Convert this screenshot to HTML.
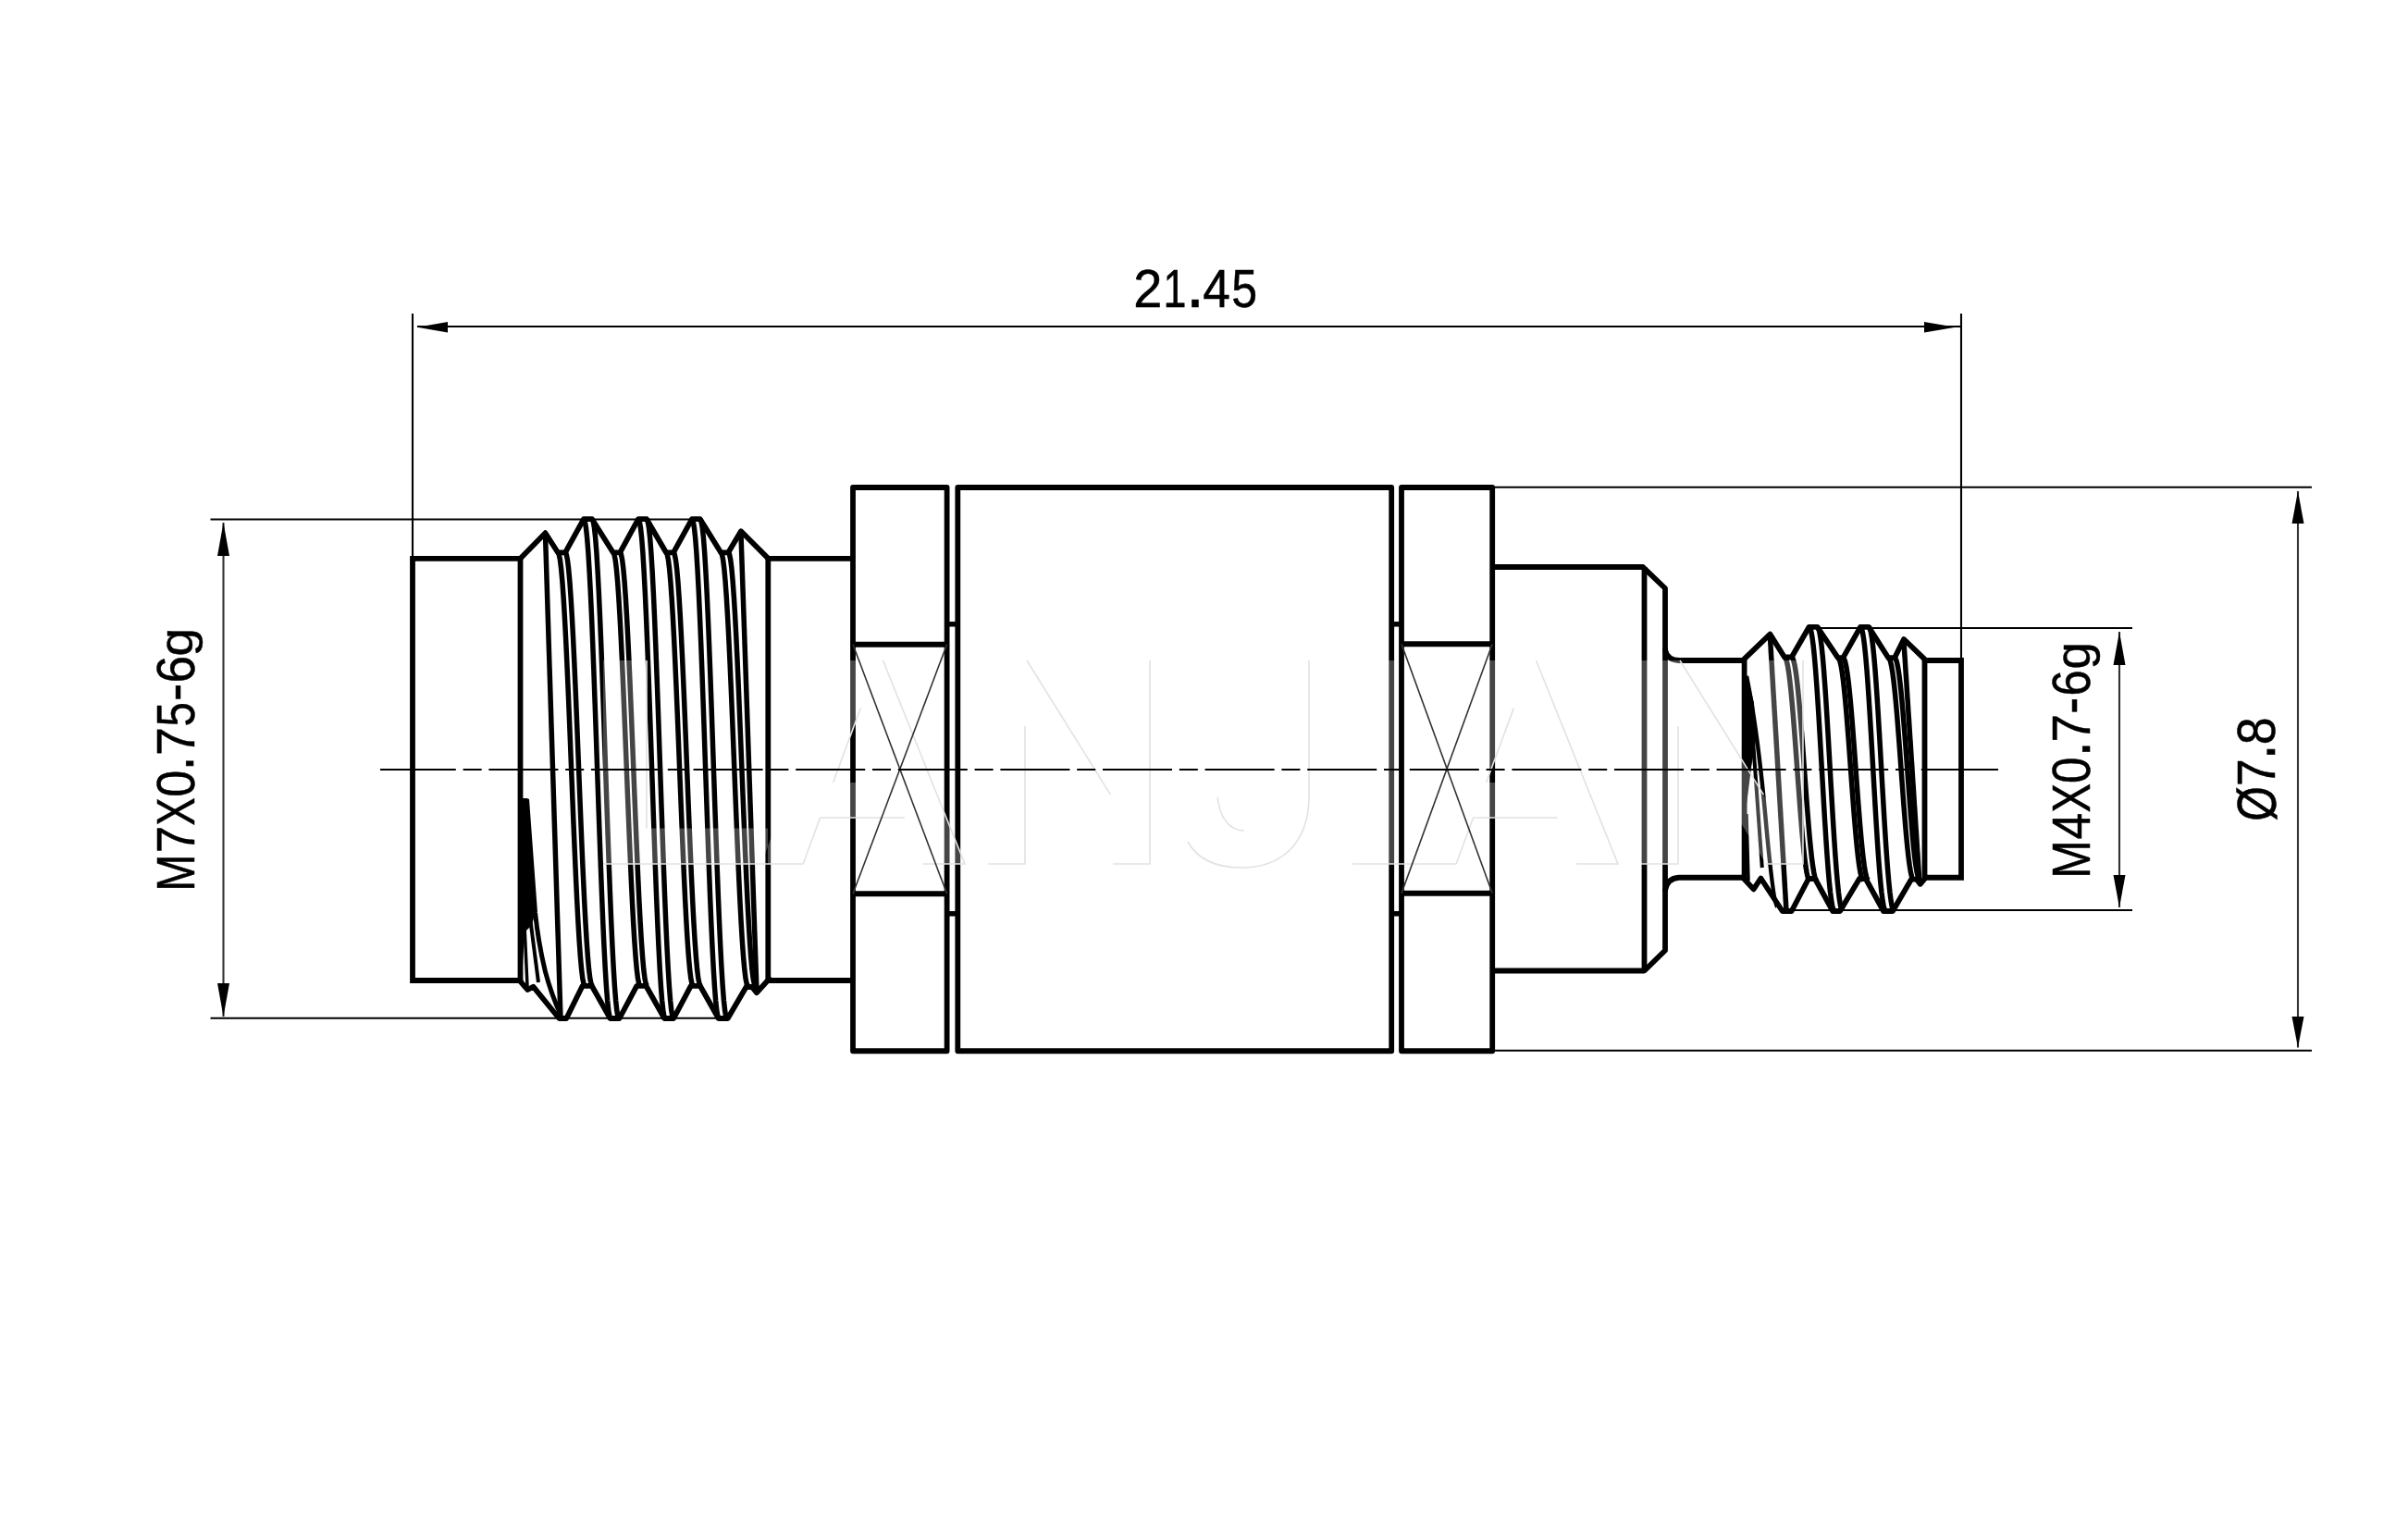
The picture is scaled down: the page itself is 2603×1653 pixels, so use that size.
<!DOCTYPE html>
<html><head><meta charset="utf-8"><style>html,body{margin:0;padding:0;background:#fff;overflow:hidden}svg{display:block}</style></head>
<body><svg width="2603" height="1653" viewBox="0 0 2603 1653">
<rect width="2603" height="1653" fill="#fff"/>
<line x1="446" y1="339" x2="446" y2="604" stroke="#000" stroke-width="2.1" stroke-linecap="butt"/>
<line x1="2120" y1="339" x2="2120" y2="714" stroke="#000" stroke-width="2.1" stroke-linecap="butt"/>
<line x1="451" y1="353" x2="2120" y2="353" stroke="#000" stroke-width="2.1" stroke-linecap="butt"/>
<path d="M451,353.8 L484,359.5 L484,348.1 Z" fill="#000"/>
<path d="M2114,353.8 L2080,348.1 L2080,359.5 Z" fill="#000"/>
<line x1="227.5" y1="561.5" x2="750" y2="561.5" stroke="#000" stroke-width="2.1" stroke-linecap="butt"/>
<line x1="227.5" y1="1100.75" x2="778" y2="1100.75" stroke="#000" stroke-width="2.1" stroke-linecap="butt"/>
<line x1="241.5" y1="565" x2="241.5" y2="1099" stroke="#333" stroke-width="2.1" stroke-linecap="butt"/>
<path d="M241.5,565 L235,601 L248,601 Z" fill="#000"/>
<path d="M241.5,1099 L248,1063 L235,1063 Z" fill="#000"/>
<line x1="1966" y1="679" x2="2305" y2="679" stroke="#000" stroke-width="2.1" stroke-linecap="butt"/>
<line x1="1930" y1="984" x2="2305" y2="984" stroke="#000" stroke-width="2.1" stroke-linecap="butt"/>
<line x1="2291" y1="683" x2="2291" y2="981" stroke="#333" stroke-width="2.1" stroke-linecap="butt"/>
<path d="M2291,683 L2284.5,719 L2297.5,719 Z" fill="#000"/>
<path d="M2291,981 L2297.5,946 L2284.5,946 Z" fill="#000"/>
<line x1="1612" y1="526.75" x2="2499" y2="526.75" stroke="#000" stroke-width="2.1" stroke-linecap="butt"/>
<line x1="1612" y1="1135.75" x2="2499" y2="1135.75" stroke="#000" stroke-width="2.1" stroke-linecap="butt"/>
<line x1="2484" y1="531" x2="2484" y2="1132.5" stroke="#333" stroke-width="2.1" stroke-linecap="butt"/>
<path d="M2484,531 L2477.5,566 L2490.5,566 Z" fill="#000"/>
<path d="M2484,1132.5 L2490.5,1099 L2477.5,1099 Z" fill="#000"/>
<path d="M562.5,603.8 L446,603.8 L446,1060 L562.5,1060" fill="none" stroke="#000" stroke-width="5.8" stroke-linejoin="miter" stroke-linecap="round"/>
<line x1="562.5" y1="601.5" x2="562.5" y2="1062.5" stroke="#000" stroke-width="5.8" stroke-linecap="butt"/>
<line x1="829" y1="603.8" x2="922" y2="603.8" stroke="#000" stroke-width="5.8" stroke-linecap="butt"/>
<line x1="829" y1="1060" x2="922" y2="1060" stroke="#000" stroke-width="5.8" stroke-linecap="butt"/>
<path d="M922,527 L1023.6,527 L1023.6,1136.25 L922,1136.25 Z" fill="none" stroke="#000" stroke-width="5.8" stroke-linejoin="round" stroke-linecap="round"/>
<line x1="922" y1="696.75" x2="1023.6" y2="696.75" stroke="#000" stroke-width="5.8" stroke-linecap="butt"/>
<line x1="922" y1="966.25" x2="1023.6" y2="966.25" stroke="#000" stroke-width="5.8" stroke-linecap="butt"/>
<line x1="1023.6" y1="674.8" x2="1035.3" y2="674.8" stroke="#000" stroke-width="5.5" stroke-linecap="butt"/>
<line x1="1023.6" y1="987.8" x2="1035.3" y2="987.8" stroke="#000" stroke-width="5.5" stroke-linecap="butt"/>
<path d="M1035.3,527 L1504.2,527 L1504.2,1136.25 L1035.3,1136.25 Z" fill="none" stroke="#000" stroke-width="5.8" stroke-linejoin="round" stroke-linecap="round"/>
<line x1="1504.2" y1="674.8" x2="1515" y2="674.8" stroke="#000" stroke-width="5.5" stroke-linecap="butt"/>
<line x1="1504.2" y1="987.8" x2="1515" y2="987.8" stroke="#000" stroke-width="5.5" stroke-linecap="butt"/>
<path d="M1515,527 L1613.2,527 L1613.2,1136.25 L1515,1136.25 Z" fill="none" stroke="#000" stroke-width="5.8" stroke-linejoin="round" stroke-linecap="round"/>
<line x1="1515" y1="696.25" x2="1613.2" y2="696.25" stroke="#000" stroke-width="5.8" stroke-linecap="butt"/>
<line x1="1515" y1="965.75" x2="1613.2" y2="965.75" stroke="#000" stroke-width="5.8" stroke-linecap="butt"/>
<line x1="1800" y1="700" x2="1800" y2="964" stroke="#000" stroke-width="5.8" stroke-linecap="butt"/>
<path d="M1612.5,613 L1776,613 L1800,636 L1800,702.5 Q1802,713.5 1815,714 L1885,714" fill="none" stroke="#000" stroke-width="5.8" stroke-linejoin="round"/>
<path d="M1612.5,1049.5 L1777.5,1049.5 L1800,1027.5 L1800,962.5 Q1802,949.5 1815,948.75 L1885,948.75" fill="none" stroke="#000" stroke-width="5.8" stroke-linejoin="round"/>
<line x1="1777.5" y1="613" x2="1777.5" y2="1049.5" stroke="#000" stroke-width="5.8" stroke-linecap="butt"/>
<path d="M2081,714 L2120,714 L2120,948.75 L2081,948.75" fill="none" stroke="#000" stroke-width="5.8" stroke-linejoin="miter" stroke-linecap="round"/>
<path d="M562.5,603.8 L589.5,576.2 L603,597.3 L611,597.3 L631,561.2 L640,561.2 L662.7,597.3 L670.2,597.3 L690,561.2 L699,561.2 L720,597.3 L728,597.3 L748,561.2 L756.8,561.2 L779.2,597.3 L787.3,597.3 L801,574.3 L830.3,603.6" fill="none" stroke="#000" stroke-width="5.8" stroke-linejoin="round" stroke-linecap="round"/>
<path d="M561.2,1059.6 L570.4,1070 L576.4,1066.7 L604.4,1101 L612.3,1101 L629.7,1065.8 L639.7,1065.8 L659.6,1101 L669.6,1101 L688.3,1065.8 L698.3,1065.8 L718.2,1101 L728.2,1101 L746.8,1065.8 L756.8,1065.8 L776.7,1101 L786.7,1101 L806.6,1067 L812.9,1067 L817.9,1073.3 L831.5,1058.3" fill="none" stroke="#000" stroke-width="5.8" stroke-linejoin="round" stroke-linecap="round"/>
<line x1="830.3" y1="601" x2="830.3" y2="1062" stroke="#000" stroke-width="5.8" stroke-linecap="butt"/>
<path d="M603,597.3 L604.22,599.3 L605.44,605.28 L606.66,615.13 L607.88,628.68 L609.09,645.7 L610.31,665.9 L611.53,688.93 L612.75,714.4 L613.97,741.88 L615.19,770.88 L616.41,800.93 L617.62,831.5 L618.84,862.07 L620.06,892.12 L621.28,921.12 L622.5,948.6 L623.72,974.07 L624.94,997.1 L626.16,1017.3 L627.38,1034.32 L628.59,1047.87 L629.81,1057.72 L631.03,1063.7 L632.25,1065.7" fill="none" stroke="#000" stroke-width="5.5" stroke-linejoin="round"/>
<path d="M611,597.3 L612.22,599.3 L613.44,605.28 L614.66,615.13 L615.88,628.68 L617.09,645.7 L618.31,665.9 L619.53,688.93 L620.75,714.4 L621.97,741.88 L623.19,770.88 L624.41,800.93 L625.62,831.5 L626.84,862.07 L628.06,892.12 L629.28,921.12 L630.5,948.6 L631.72,974.07 L632.94,997.1 L634.16,1017.3 L635.38,1034.32 L636.59,1047.87 L637.81,1057.72 L639.03,1063.7 L640.25,1065.7" fill="none" stroke="#000" stroke-width="5.5" stroke-linejoin="round"/>
<path d="M631,561.2 L632.22,563.51 L633.44,570.41 L634.66,581.78 L635.88,597.41 L637.09,617.06 L638.31,640.37 L639.53,666.95 L640.75,696.35 L641.97,728.06 L643.19,761.54 L644.41,796.22 L645.62,831.5 L646.84,866.78 L648.06,901.46 L649.28,934.94 L650.5,966.65 L651.72,996.05 L652.94,1022.63 L654.16,1045.94 L655.38,1065.59 L656.59,1081.22 L657.81,1092.59 L659.03,1099.49 L660.25,1101.8" fill="none" stroke="#000" stroke-width="5.5" stroke-linejoin="round"/>
<path d="M640,561.2 L641.22,563.51 L642.44,570.41 L643.66,581.78 L644.88,597.41 L646.09,617.06 L647.31,640.37 L648.53,666.95 L649.75,696.35 L650.97,728.06 L652.19,761.54 L653.41,796.22 L654.62,831.5 L655.84,866.78 L657.06,901.46 L658.28,934.94 L659.5,966.65 L660.72,996.05 L661.94,1022.63 L663.16,1045.94 L664.38,1065.59 L665.59,1081.22 L666.81,1092.59 L668.03,1099.49 L669.25,1101.8" fill="none" stroke="#000" stroke-width="5.5" stroke-linejoin="round"/>
<path d="M662.7,597.3 L663.92,599.3 L665.14,605.28 L666.36,615.13 L667.58,628.68 L668.79,645.7 L670.01,665.9 L671.23,688.93 L672.45,714.4 L673.67,741.88 L674.89,770.88 L676.11,800.93 L677.33,831.5 L678.54,862.07 L679.76,892.12 L680.98,921.12 L682.2,948.6 L683.42,974.07 L684.64,997.1 L685.86,1017.3 L687.08,1034.32 L688.29,1047.87 L689.51,1057.72 L690.73,1063.7 L691.95,1065.7" fill="none" stroke="#000" stroke-width="5.5" stroke-linejoin="round"/>
<path d="M670.2,597.3 L671.42,599.3 L672.64,605.28 L673.86,615.13 L675.08,628.68 L676.29,645.7 L677.51,665.9 L678.73,688.93 L679.95,714.4 L681.17,741.88 L682.39,770.88 L683.61,800.93 L684.83,831.5 L686.04,862.07 L687.26,892.12 L688.48,921.12 L689.7,948.6 L690.92,974.07 L692.14,997.1 L693.36,1017.3 L694.58,1034.32 L695.79,1047.87 L697.01,1057.72 L698.23,1063.7 L699.45,1065.7" fill="none" stroke="#000" stroke-width="5.5" stroke-linejoin="round"/>
<path d="M690,561.2 L691.22,563.51 L692.44,570.41 L693.66,581.78 L694.88,597.41 L696.09,617.06 L697.31,640.37 L698.53,666.95 L699.75,696.35 L700.97,728.06 L702.19,761.54 L703.41,796.22 L704.62,831.5 L705.84,866.78 L707.06,901.46 L708.28,934.94 L709.5,966.65 L710.72,996.05 L711.94,1022.63 L713.16,1045.94 L714.38,1065.59 L715.59,1081.22 L716.81,1092.59 L718.03,1099.49 L719.25,1101.8" fill="none" stroke="#000" stroke-width="5.5" stroke-linejoin="round"/>
<path d="M699,561.2 L700.22,563.51 L701.44,570.41 L702.66,581.78 L703.88,597.41 L705.09,617.06 L706.31,640.37 L707.53,666.95 L708.75,696.35 L709.97,728.06 L711.19,761.54 L712.41,796.22 L713.62,831.5 L714.84,866.78 L716.06,901.46 L717.28,934.94 L718.5,966.65 L719.72,996.05 L720.94,1022.63 L722.16,1045.94 L723.38,1065.59 L724.59,1081.22 L725.81,1092.59 L727.03,1099.49 L728.25,1101.8" fill="none" stroke="#000" stroke-width="5.5" stroke-linejoin="round"/>
<path d="M720,597.3 L721.22,599.3 L722.44,605.28 L723.66,615.13 L724.88,628.68 L726.09,645.7 L727.31,665.9 L728.53,688.93 L729.75,714.4 L730.97,741.88 L732.19,770.88 L733.41,800.93 L734.62,831.5 L735.84,862.07 L737.06,892.12 L738.28,921.12 L739.5,948.6 L740.72,974.07 L741.94,997.1 L743.16,1017.3 L744.38,1034.32 L745.59,1047.87 L746.81,1057.72 L748.03,1063.7 L749.25,1065.7" fill="none" stroke="#000" stroke-width="5.5" stroke-linejoin="round"/>
<path d="M728,597.3 L729.22,599.3 L730.44,605.28 L731.66,615.13 L732.88,628.68 L734.09,645.7 L735.31,665.9 L736.53,688.93 L737.75,714.4 L738.97,741.88 L740.19,770.88 L741.41,800.93 L742.62,831.5 L743.84,862.07 L745.06,892.12 L746.28,921.12 L747.5,948.6 L748.72,974.07 L749.94,997.1 L751.16,1017.3 L752.38,1034.32 L753.59,1047.87 L754.81,1057.72 L756.03,1063.7 L757.25,1065.7" fill="none" stroke="#000" stroke-width="5.5" stroke-linejoin="round"/>
<path d="M748,561.2 L749.22,563.51 L750.44,570.41 L751.66,581.78 L752.88,597.41 L754.09,617.06 L755.31,640.37 L756.53,666.95 L757.75,696.35 L758.97,728.06 L760.19,761.54 L761.41,796.22 L762.62,831.5 L763.84,866.78 L765.06,901.46 L766.28,934.94 L767.5,966.65 L768.72,996.05 L769.94,1022.63 L771.16,1045.94 L772.38,1065.59 L773.59,1081.22 L774.81,1092.59 L776.03,1099.49 L777.25,1101.8" fill="none" stroke="#000" stroke-width="5.5" stroke-linejoin="round"/>
<path d="M756.8,561.2 L758.02,563.51 L759.24,570.41 L760.46,581.78 L761.67,597.41 L762.89,617.06 L764.11,640.37 L765.33,666.95 L766.55,696.35 L767.77,728.06 L768.99,761.54 L770.21,796.22 L771.42,831.5 L772.64,866.78 L773.86,901.46 L775.08,934.94 L776.3,966.65 L777.52,996.05 L778.74,1022.63 L779.96,1045.94 L781.17,1065.59 L782.39,1081.22 L783.61,1092.59 L784.83,1099.49 L786.05,1101.8" fill="none" stroke="#000" stroke-width="5.5" stroke-linejoin="round"/>
<path d="M779.2,597.3 L780.42,599.3 L781.64,605.28 L782.86,615.13 L784.08,628.68 L785.29,645.7 L786.51,665.9 L787.73,688.93 L788.95,714.4 L790.17,741.88 L791.39,770.88 L792.61,800.93 L793.83,831.5 L795.04,862.07 L796.26,892.12 L797.48,921.12 L798.7,948.6 L799.92,974.07 L801.14,997.1 L802.36,1017.3 L803.58,1034.32 L804.79,1047.87 L806.01,1057.72 L807.23,1063.7 L808.45,1065.7" fill="none" stroke="#000" stroke-width="5.5" stroke-linejoin="round"/>
<path d="M787.3,597.3 L788.52,599.3 L789.74,605.28 L790.96,615.13 L792.17,628.68 L793.39,645.7 L794.61,665.9 L795.83,688.93 L797.05,714.4 L798.27,741.88 L799.49,770.88 L800.71,800.93 L801.92,831.5 L803.14,862.07 L804.36,892.12 L805.58,921.12 L806.8,948.6 L808.02,974.07 L809.24,997.1 L810.46,1017.3 L811.67,1034.32 L812.89,1047.87 L814.11,1057.72 L815.33,1063.7 L816.55,1065.7" fill="none" stroke="#000" stroke-width="5.5" stroke-linejoin="round"/>
<line x1="589.5" y1="578" x2="606" y2="1101" stroke="#000" stroke-width="5.5" stroke-linecap="butt"/>
<line x1="801" y1="578" x2="818" y2="1072" stroke="#000" stroke-width="5.5" stroke-linecap="butt"/>
<path d="M560.5,863 L570.5,863 L578.5,986.5 L575,1000 L567,1008 L564,1062 L560.5,1062 Z" fill="#000"/>
<path d="M569.5,864 L578.5,986.5 Q582,1020 589.5,1050.6 Q596,1075 606,1097" fill="none" stroke="#000" stroke-width="5"/>
<line x1="573" y1="992" x2="582" y2="1062" stroke="#000" stroke-width="4" stroke-linecap="butt"/>
<line x1="567" y1="1000" x2="570" y2="1066" stroke="#000" stroke-width="3.5" stroke-linecap="butt"/>
<path d="M1884.5,713.4 L1913.4,685.6 L1929,710.5 L1936.7,710.5 L1955.6,677.8 L1964.5,677.8 L1986.8,711.2 L1992.3,711.2 L2011,677.8 L2020,677.8 L2041.3,711.2 L2048,711.2 L2058,691 L2080.2,712.3" fill="none" stroke="#000" stroke-width="5.8" stroke-linejoin="round" stroke-linecap="round"/>
<path d="M1884.5,949.2 L1895.6,961.4 L1903.4,949.5 L1926.7,985 L1936.7,985 L1955,950 L1962,950 L1981.2,985 L1989,985 L2010,950 L2016.8,950 L2036,985 L2046,985 L2066,950.7 L2072,950.7 L2075.7,955.8 L2081.3,949.2" fill="none" stroke="#000" stroke-width="5.8" stroke-linejoin="round" stroke-linecap="round"/>
<line x1="1885.6" y1="711" x2="1885.6" y2="951" stroke="#000" stroke-width="5.8" stroke-linecap="butt"/>
<line x1="2080.5" y1="711" x2="2080.5" y2="951" stroke="#000" stroke-width="5.8" stroke-linecap="butt"/>
<path d="M1929,710.5 L1930.15,711.54 L1931.29,714.62 L1932.44,719.71 L1933.58,726.71 L1934.73,735.5 L1935.88,745.94 L1937.02,757.84 L1938.17,771 L1939.31,785.2 L1940.46,800.18 L1941.6,815.71 L1942.75,831.5 L1943.9,847.29 L1945.04,862.82 L1946.19,877.8 L1947.33,892 L1948.48,905.16 L1949.62,917.06 L1950.77,927.5 L1951.92,936.29 L1953.06,943.29 L1954.21,948.38 L1955.35,951.46 L1956.5,952.5" fill="none" stroke="#000" stroke-width="5.5" stroke-linejoin="round"/>
<path d="M1936.7,710.5 L1937.85,711.54 L1938.99,714.62 L1940.14,719.71 L1941.28,726.71 L1942.43,735.5 L1943.58,745.94 L1944.72,757.84 L1945.87,771 L1947.01,785.2 L1948.16,800.18 L1949.3,815.71 L1950.45,831.5 L1951.6,847.29 L1952.74,862.82 L1953.89,877.8 L1955.03,892 L1956.18,905.16 L1957.33,917.06 L1958.47,927.5 L1959.62,936.29 L1960.76,943.29 L1961.91,948.38 L1963.05,951.46 L1964.2,952.5" fill="none" stroke="#000" stroke-width="5.5" stroke-linejoin="round"/>
<path d="M1955.6,677.8 L1956.75,679.11 L1957.89,683.04 L1959.04,689.5 L1960.18,698.39 L1961.33,709.56 L1962.47,722.82 L1963.62,737.93 L1964.77,754.65 L1965.91,772.68 L1967.06,791.72 L1968.2,811.44 L1969.35,831.5 L1970.5,851.56 L1971.64,871.28 L1972.79,890.32 L1973.93,908.35 L1975.08,925.07 L1976.22,940.18 L1977.37,953.44 L1978.52,964.61 L1979.66,973.5 L1980.81,979.96 L1981.95,983.89 L1983.1,985.2" fill="none" stroke="#000" stroke-width="5.5" stroke-linejoin="round"/>
<path d="M1964.5,677.8 L1965.65,679.11 L1966.79,683.04 L1967.94,689.5 L1969.08,698.39 L1970.23,709.56 L1971.38,722.82 L1972.52,737.93 L1973.67,754.65 L1974.81,772.68 L1975.96,791.72 L1977.1,811.44 L1978.25,831.5 L1979.4,851.56 L1980.54,871.28 L1981.69,890.32 L1982.83,908.35 L1983.98,925.07 L1985.12,940.18 L1986.27,953.44 L1987.42,964.61 L1988.56,973.5 L1989.71,979.96 L1990.85,983.89 L1992,985.2" fill="none" stroke="#000" stroke-width="5.5" stroke-linejoin="round"/>
<path d="M1986.8,711.2 L1987.95,712.23 L1989.09,715.3 L1990.24,720.36 L1991.38,727.32 L1992.53,736.06 L1993.67,746.44 L1994.82,758.27 L1995.97,771.35 L1997.11,785.46 L1998.26,800.36 L1999.4,815.8 L2000.55,831.5 L2001.7,847.2 L2002.84,862.64 L2003.99,877.54 L2005.13,891.65 L2006.28,904.73 L2007.42,916.56 L2008.57,926.94 L2009.72,935.68 L2010.86,942.64 L2012.01,947.7 L2013.15,950.77 L2014.3,951.8" fill="none" stroke="#000" stroke-width="5.5" stroke-linejoin="round"/>
<path d="M1992.3,711.2 L1993.45,712.23 L1994.59,715.3 L1995.74,720.36 L1996.88,727.32 L1998.03,736.06 L1999.17,746.44 L2000.32,758.27 L2001.47,771.35 L2002.61,785.46 L2003.76,800.36 L2004.9,815.8 L2006.05,831.5 L2007.2,847.2 L2008.34,862.64 L2009.49,877.54 L2010.63,891.65 L2011.78,904.73 L2012.92,916.56 L2014.07,926.94 L2015.22,935.68 L2016.36,942.64 L2017.51,947.7 L2018.65,950.77 L2019.8,951.8" fill="none" stroke="#000" stroke-width="5.5" stroke-linejoin="round"/>
<path d="M2011,677.8 L2012.15,679.11 L2013.29,683.04 L2014.44,689.5 L2015.58,698.39 L2016.73,709.56 L2017.88,722.82 L2019.02,737.93 L2020.17,754.65 L2021.31,772.68 L2022.46,791.72 L2023.6,811.44 L2024.75,831.5 L2025.9,851.56 L2027.04,871.28 L2028.19,890.32 L2029.33,908.35 L2030.48,925.07 L2031.62,940.18 L2032.77,953.44 L2033.92,964.61 L2035.06,973.5 L2036.21,979.96 L2037.35,983.89 L2038.5,985.2" fill="none" stroke="#000" stroke-width="5.5" stroke-linejoin="round"/>
<path d="M2020,677.8 L2021.15,679.11 L2022.29,683.04 L2023.44,689.5 L2024.58,698.39 L2025.73,709.56 L2026.88,722.82 L2028.02,737.93 L2029.17,754.65 L2030.31,772.68 L2031.46,791.72 L2032.6,811.44 L2033.75,831.5 L2034.9,851.56 L2036.04,871.28 L2037.19,890.32 L2038.33,908.35 L2039.48,925.07 L2040.62,940.18 L2041.77,953.44 L2042.92,964.61 L2044.06,973.5 L2045.21,979.96 L2046.35,983.89 L2047.5,985.2" fill="none" stroke="#000" stroke-width="5.5" stroke-linejoin="round"/>
<path d="M2041.3,711.2 L2042.45,712.23 L2043.59,715.3 L2044.74,720.36 L2045.88,727.32 L2047.03,736.06 L2048.18,746.44 L2049.32,758.27 L2050.47,771.35 L2051.61,785.46 L2052.76,800.36 L2053.9,815.8 L2055.05,831.5 L2056.2,847.2 L2057.34,862.64 L2058.49,877.54 L2059.63,891.65 L2060.78,904.73 L2061.92,916.56 L2063.07,926.94 L2064.22,935.68 L2065.36,942.64 L2066.51,947.7 L2067.65,950.77 L2068.8,951.8" fill="none" stroke="#000" stroke-width="5.5" stroke-linejoin="round"/>
<path d="M2048,711.2 L2049.15,712.23 L2050.29,715.3 L2051.44,720.36 L2052.58,727.32 L2053.73,736.06 L2054.88,746.44 L2056.02,758.27 L2057.17,771.35 L2058.31,785.46 L2059.46,800.36 L2060.6,815.8 L2061.75,831.5 L2062.9,847.2 L2064.04,862.64 L2065.19,877.54 L2066.33,891.65 L2067.48,904.73 L2068.62,916.56 L2069.77,926.94 L2070.92,935.68 L2072.06,942.64 L2073.21,947.7 L2074.35,950.77 L2075.5,951.8" fill="none" stroke="#000" stroke-width="5.5" stroke-linejoin="round"/>
<line x1="1913.4" y1="688" x2="1931" y2="985" stroke="#000" stroke-width="5.5" stroke-linecap="butt"/>
<line x1="2058" y1="694" x2="2075" y2="955" stroke="#000" stroke-width="5.5" stroke-linecap="butt"/>
<path d="M1885,728 L1889,731 L1896,760 L1898,800 L1893,830 L1888,870 L1885,950 Z" fill="#000"/>
<path d="M1888,731 Q1900,790 1908.4,883 T1921,980" fill="none" stroke="#000" stroke-width="4.5"/>
<line x1="1893" y1="773" x2="1904.8" y2="938" stroke="#000" stroke-width="4" stroke-linecap="butt"/>
<line x1="1888" y1="880" x2="1890" y2="952" stroke="#000" stroke-width="3.5" stroke-linecap="butt"/>
<path d="M652,714 L699,714 L699,895.5 L830,895.5 L830,934 L652,934 Z M904,714 L954.5,714 L1043,934 L823,934 Z M930.3,765.6 L962.6,846 L900.6,846 Z M886.6,884 L977.8,884 L997.9,934 L868.1,934 Z M1068,714 L1110,714 L1203,863.4 L1203,714 L1243,714 L1243,934 L1203,934 L1108,779.1 L1108,934 L1068,934 Z M1375,714 L1415,714 L1415,860 C1415,912 1385,938 1342,938 C1312,938 1294,928 1284,910 L1316,862 C1319,886 1330,898 1345,898 C1364,898 1375,884 1375,860 Z M1462,714 L1508,714 L1508,934 L1462,934 Z M1610,714 L1660.5,714 L1749,934 L1529,934 Z M1636.3,765.6 L1668.6,846 L1606.6,846 Z M1592.6,884 L1683.8,884 L1703.9,934 L1574.1,934 Z M1774,714 L1816,714 L1909,863.4 L1909,714 L1949,714 L1949,934 L1909,934 L1814,779.1 L1814,934 L1774,934 Z" fill="#fff" fill-opacity="0.27" fill-rule="evenodd"/>
<path d="M930.3,765.6 L900.6,846" fill="none" stroke="#e2e2e2" stroke-width="1.6"/>
<path d="M954.5,714 L1043,934 L998,934" fill="none" stroke="#e2e2e2" stroke-width="1.6"/>
<path d="M886.6,884 L977.8,884" fill="none" stroke="#e2e2e2" stroke-width="1.6"/>
<path d="M868.1,934 L886.6,884" fill="none" stroke="#e2e2e2" stroke-width="1.6"/>
<path d="M1068,934 L1108,934 L1108,785" fill="none" stroke="#e2e2e2" stroke-width="1.6"/>
<path d="M1110,714 L1200.4,859.2" fill="none" stroke="#e2e2e2" stroke-width="1.6"/>
<path d="M1203,934 L1243,934 L1243,714" fill="none" stroke="#e2e2e2" stroke-width="1.6"/>
<path d="M1636.3,765.6 L1606.6,846" fill="none" stroke="#e2e2e2" stroke-width="1.6"/>
<path d="M1660.5,714 L1749,934 L1704,934" fill="none" stroke="#e2e2e2" stroke-width="1.6"/>
<path d="M1592.6,884 L1683.8,884" fill="none" stroke="#e2e2e2" stroke-width="1.6"/>
<path d="M1574.1,934 L1592.6,884" fill="none" stroke="#e2e2e2" stroke-width="1.6"/>
<path d="M1774,934 L1814,934 L1814,785" fill="none" stroke="#e2e2e2" stroke-width="1.6"/>
<path d="M1816,714 L1906.4,859.2" fill="none" stroke="#e2e2e2" stroke-width="1.6"/>
<path d="M1909,934 L1949,934 L1949,714" fill="none" stroke="#e2e2e2" stroke-width="1.6"/>
<path d="M699,714 L699,895.5" fill="none" stroke="#e2e2e2" stroke-width="1.6"/>
<path d="M652,934 L868.1,934" fill="none" stroke="#e2e2e2" stroke-width="1.6"/>
<path d="M1462,934 L1574.1,934" fill="none" stroke="#e2e2e2" stroke-width="1.6"/>
<path d="M1415,714 L1415,860 C1415,912 1385,938 1342,938 C1312,938 1294,928 1284,910" fill="none" stroke="#e2e2e2" stroke-width="1.6"/>
<path d="M1316,862 C1319,886 1330,898 1345,898" fill="none" stroke="#e2e2e2" stroke-width="1.6"/>
<line x1="922" y1="696.75" x2="1023.6" y2="966.25" stroke="#333" stroke-width="1.6" stroke-linecap="butt"/>
<line x1="1023.6" y1="696.75" x2="922" y2="966.25" stroke="#333" stroke-width="1.6" stroke-linecap="butt"/>
<line x1="1515" y1="696.25" x2="1613.2" y2="965.75" stroke="#333" stroke-width="1.6" stroke-linecap="butt"/>
<line x1="1613.2" y1="696.25" x2="1515" y2="965.75" stroke="#333" stroke-width="1.6" stroke-linecap="butt"/>
<line x1="411" y1="832" x2="418" y2="832" stroke="#000" stroke-width="2"/>
<line x1="417.8" y1="832" x2="2151.8" y2="832" stroke="#000" stroke-width="2" stroke-dasharray="75 7.8 20 7.8"/>
<line x1="2151" y1="832" x2="2160" y2="832" stroke="#000" stroke-width="2"/>
<text transform="matrix(0.963,0,0,1,1225.185,332)" font-family="Liberation Sans, sans-serif" font-size="58.141" fill="#000" stroke="#000" stroke-width="0.5">2</text>
<text transform="matrix(0.77,0,0,1,1257.59,332)" font-family="Liberation Sans, sans-serif" font-size="58.141" fill="#000" stroke="#000" stroke-width="0.5">1</text>
<text transform="matrix(1.228,0,0,1.287,1281.879,332)" font-family="Liberation Sans, sans-serif" font-size="58.141" fill="#000" stroke="#000" stroke-width="0.5">.</text>
<text transform="matrix(0.915,0,0,1,1300.279,332)" font-family="Liberation Sans, sans-serif" font-size="58.141" fill="#000" stroke="#000" stroke-width="0.5">4</text>
<text transform="matrix(0.86,0,0,1,1331.199,332)" font-family="Liberation Sans, sans-serif" font-size="58.141" fill="#000" stroke="#000" stroke-width="0.5">5</text>
<text transform="matrix(0,-0.841,1,0,209.5,963.661)" font-family="Liberation Sans, sans-serif" font-size="57.414" fill="#000" stroke="#000" stroke-width="0.5">M</text>
<text transform="matrix(0,-0.92,1,0,209.5,922.207)" font-family="Liberation Sans, sans-serif" font-size="57.414" fill="#000" stroke="#000" stroke-width="0.5">7</text>
<text transform="matrix(0,-0.796,1,0,209.5,892.627)" font-family="Liberation Sans, sans-serif" font-size="57.414" fill="#000" stroke="#000" stroke-width="0.5">X</text>
<text transform="matrix(0,-0.911,1,0,209.5,861.743)" font-family="Liberation Sans, sans-serif" font-size="57.414" fill="#000" stroke="#000" stroke-width="0.5">0</text>
<text transform="matrix(0,-0.97,1.27,0,209.2,832.883)" font-family="Liberation Sans, sans-serif" font-size="57.414" fill="#000" stroke="#000" stroke-width="0.5">.</text>
<text transform="matrix(0,-0.977,1,0,209.5,816.976)" font-family="Liberation Sans, sans-serif" font-size="57.414" fill="#000" stroke="#000" stroke-width="0.5">7</text>
<text transform="matrix(0,-0.827,1,0,209.5,785.6)" font-family="Liberation Sans, sans-serif" font-size="57.414" fill="#000" stroke="#000" stroke-width="0.5">5</text>
<text transform="matrix(0,-1.013,1.092,0,208.51,757.884)" font-family="Liberation Sans, sans-serif" font-size="57.414" fill="#000" stroke="#000" stroke-width="0.5">-</text>
<text transform="matrix(0,-0.925,1,0,209.5,738.396)" font-family="Liberation Sans, sans-serif" font-size="57.414" fill="#000" stroke="#000" stroke-width="0.5">6</text>
<text transform="matrix(0,-0.953,0.913,0,208.124,709.597)" font-family="Liberation Sans, sans-serif" font-size="57.414" fill="#000" stroke="#000" stroke-width="0.5">g</text>
<text transform="matrix(0,-0.874,1,0,2259,949.684)" font-family="Liberation Sans, sans-serif" font-size="56.978" fill="#000" stroke="#000" stroke-width="0.5">M</text>
<text transform="matrix(0,-0.906,1,0,2259,907.584)" font-family="Liberation Sans, sans-serif" font-size="56.978" fill="#000" stroke="#000" stroke-width="0.5">4</text>
<text transform="matrix(0,-0.83,1,0,2259,878.563)" font-family="Liberation Sans, sans-serif" font-size="56.978" fill="#000" stroke="#000" stroke-width="0.5">X</text>
<text transform="matrix(0,-0.9,1,0,2259,847.102)" font-family="Liberation Sans, sans-serif" font-size="56.978" fill="#000" stroke="#000" stroke-width="0.5">0</text>
<text transform="matrix(0,-1.069,1.264,0,2259,818.262)" font-family="Liberation Sans, sans-serif" font-size="56.978" fill="#000" stroke="#000" stroke-width="0.5">.</text>
<text transform="matrix(0,-0.965,1,0,2259,802.62)" font-family="Liberation Sans, sans-serif" font-size="56.978" fill="#000" stroke="#000" stroke-width="0.5">7</text>
<text transform="matrix(0,-0.949,1.101,0,2258.51,771.802)" font-family="Liberation Sans, sans-serif" font-size="56.978" fill="#000" stroke="#000" stroke-width="0.5">-</text>
<text transform="matrix(0,-0.894,1,0,2259,752.386)" font-family="Liberation Sans, sans-serif" font-size="56.978" fill="#000" stroke="#000" stroke-width="0.5">6</text>
<text transform="matrix(0,-0.921,0.939,0,2258.501,723.604)" font-family="Liberation Sans, sans-serif" font-size="56.978" fill="#000" stroke="#000" stroke-width="0.5">g</text>
<text transform="matrix(0,-0.838,1.028,0,2459.765,887.776)" font-family="Liberation Sans, sans-serif" font-size="57.704" fill="#000" stroke="#000" stroke-width="0.5">Ø</text>
<text transform="matrix(0,-0.923,1,0,2459,850.029)" font-family="Liberation Sans, sans-serif" font-size="57.704" fill="#000" stroke="#000" stroke-width="0.5">7</text>
<text transform="matrix(0,-1.037,1.329,0,2459,821.366)" font-family="Liberation Sans, sans-serif" font-size="57.704" fill="#000" stroke="#000" stroke-width="0.5">.</text>
<text transform="matrix(0,-0.934,1,0,2459,805.143)" font-family="Liberation Sans, sans-serif" font-size="57.704" fill="#000" stroke="#000" stroke-width="0.5">8</text>
</svg></body></html>
